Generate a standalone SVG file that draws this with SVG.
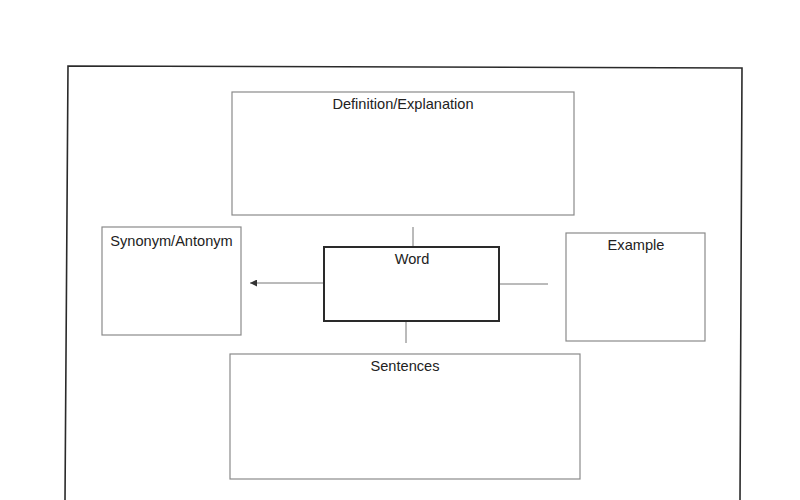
<svg xmlns="http://www.w3.org/2000/svg" width="800" height="500" viewBox="0 0 800 500">
<defs>
<style>
.box{fill:#fff;stroke:#8a8a8a;stroke-width:1.2}
.word{fill:#fff;stroke:#2a2a2a;stroke-width:2}
.lbl{font-family:"Liberation Sans",Arial,sans-serif;font-size:14.6px;fill:#222;text-anchor:middle}
.con{stroke:#777;stroke-width:1;fill:none}
</style>
<marker id="ah" viewBox="0 0 10 10" refX="10" refY="5" markerWidth="7" markerHeight="7" markerUnits="userSpaceOnUse" orient="auto">
<path d="M0,0 L10,5 L0,10 z" fill="#333"/>
</marker>
</defs>
<rect width="800" height="500" fill="#fff"/>
<path d="M65,500 L68,66 L742,68 L740,500" fill="none" stroke="#2a2a2a" stroke-width="1.6"/>
<g id="connectors">
<line class="con" x1="413" y1="227" x2="413" y2="247"/>
<line class="con" x1="406" y1="321" x2="406" y2="343"/>
<line class="con" x1="499" y1="284" x2="548" y2="284"/>
<line class="con" x1="324" y1="283" x2="250" y2="283" marker-end="url(#ah)"/>
</g>
<g id="definition">
<rect class="box" x="232" y="92" width="342" height="123"/>
<text class="lbl" x="403" y="109">Definition/Explanation</text>
</g>
<g id="synonym">
<rect class="box" x="102" y="227" width="139" height="108"/>
<text class="lbl" x="171.5" y="246">Synonym/Antonym</text>
</g>
<g id="word">
<rect class="word" x="324" y="247" width="175" height="74"/>
<text class="lbl" x="412" y="264">Word</text>
</g>
<g id="example">
<rect class="box" x="566" y="233" width="139" height="108"/>
<text class="lbl" x="636" y="250">Example</text>
</g>
<g id="sentences">
<rect class="box" x="230" y="354" width="350" height="125"/>
<text class="lbl" x="405" y="371">Sentences</text>
</g>
</svg>
